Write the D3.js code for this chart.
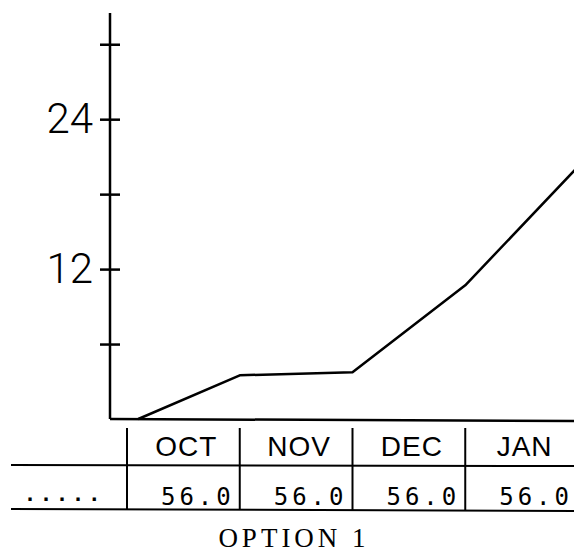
<!DOCTYPE html>
<html>
<head>
<meta charset="utf-8">
<script src="https://cdn.jsdelivr.net/npm/d3@7"></script>
<style>
  body { margin: 0; background: #fff; }
  svg { display: block; }
</style>
</head>
<body>
<svg width="574" height="555"></svg>
<script>
// chart values
var months = ["OCT", "NOV", "DEC", "JAN"];
var tableValues = ["56.0", "56.0", "56.0", "56.0"];
var rowLabel = ".....";
var linePos = [0.1, 1, 2, 3, 4];        // position along months (month ends)
var lineVals = [0, 3.5, 3.75, 10.7, 20.2];
var yTicks = [6, 12, 18, 24, 30];
var yLabels = [12, 24];
var title = "OPTION 1";

var svg = d3.select("svg");

var axisX = 110, base = 419;

var y = d3.scaleLinear().domain([0, 32.5]).range([base, 13]);
var x = d3.scaleLinear().domain([0, 4]).range([127, 578]);

// y axis
var yAxis = svg.append("g")
    .attr("transform", "translate(" + axisX + ",0)")
    .call(d3.axisLeft(y)
        .tickValues(yTicks)
        .tickSize(10)
        .tickPadding(7)
        .tickFormat(function(d) { return yLabels.indexOf(d) >= 0 ? d : ""; }));

yAxis.select(".domain").remove();
yAxis.append("line")
    .attr("x1", 0).attr("x2", 0)
    .attr("y1", y(0)).attr("y2", y(32.5))
    .attr("stroke", "#000").attr("stroke-width", 2.5);
yAxis.selectAll(".tick line")
    .attr("x1", 10)
    .attr("stroke", "#000")
    .attr("stroke-width", 2.5);
yAxis.selectAll(".tick text")
    .attr("fill", "#000")
    .style("font-family", "Roboto, 'Liberation Sans', sans-serif")
    .style("font-weight", 300)
    .style("font-size", "42px");

// baseline
svg.append("line")
    .attr("x1", axisX).attr("x2", 574)
    .attr("y1", base).attr("y2", base + 2)
    .attr("stroke", "#000").attr("stroke-width", 2.5);

// data line
var pts = linePos.map(function(p, i) { return [x(p), y(lineVals[i])]; });
svg.append("path")
    .datum(pts)
    .attr("fill", "none")
    .attr("stroke", "#000")
    .attr("stroke-width", 2.5)
    .attr("stroke-linejoin", "round")
    .attr("d", d3.line());

// table
var hdrY = 446, rowLine1 = 465, valY = 505, rowLine2 = 509;

svg.append("line")
    .attr("x1", 11).attr("x2", 574)
    .attr("y1", rowLine1).attr("y2", rowLine1 + 1)
    .attr("stroke", "#000").attr("stroke-width", 2);
svg.append("line")
    .attr("x1", 11).attr("x2", 574)
    .attr("y1", rowLine2).attr("y2", rowLine2 + 2)
    .attr("stroke", "#000").attr("stroke-width", 2);

svg.selectAll(".sep")
    .data(months)
    .enter().append("line")
    .attr("class", "sep")
    .attr("x1", function(d, i) { return x(i); })
    .attr("x2", function(d, i) { return x(i); })
    .attr("y1", 428).attr("y2", 510)
    .attr("stroke", "#000").attr("stroke-width", 2);

svg.selectAll(".mon")
    .data(months)
    .enter().append("text")
    .attr("class", "mon")
    .attr("x", function(d, i) { return (x(i) + x(i + 1)) / 2 + 3; })
    .attr("y", hdrY)
    .attr("dy", "0.35em")
    .attr("text-anchor", "middle")
    .style("font-family", "'Liberation Sans', sans-serif")
    .style("font-size", "28px")
    .style("letter-spacing", "1px")
    .text(function(d) { return d; });

svg.selectAll(".val")
    .data(tableValues)
    .enter().append("text")
    .attr("class", "val")
    .attr("x", function(d, i) { return x(i + 1) - 5; })
    .attr("y", valY)
    .attr("text-anchor", "end")
    .style("font-family", "'DejaVu Sans Mono', monospace")
    .style("font-size", "24px")
    .style("letter-spacing", "4px")
    .text(function(d) { return d; });

svg.append("text")
    .attr("x", 24).attr("y", 501)
    .style("font-family", "'DejaVu Sans Mono', monospace")
    .style("font-size", "20px")
    .style("font-weight", "bold")
    .style("letter-spacing", "4px")
    .text(rowLabel);

svg.append("text")
    .attr("x", 294).attr("y", 547)
    .attr("text-anchor", "middle")
    .style("font-family", "'Liberation Serif', serif")
    .style("font-size", "27px")
    .style("letter-spacing", "4px")
    .text(title);
</script>
</body>
</html>
